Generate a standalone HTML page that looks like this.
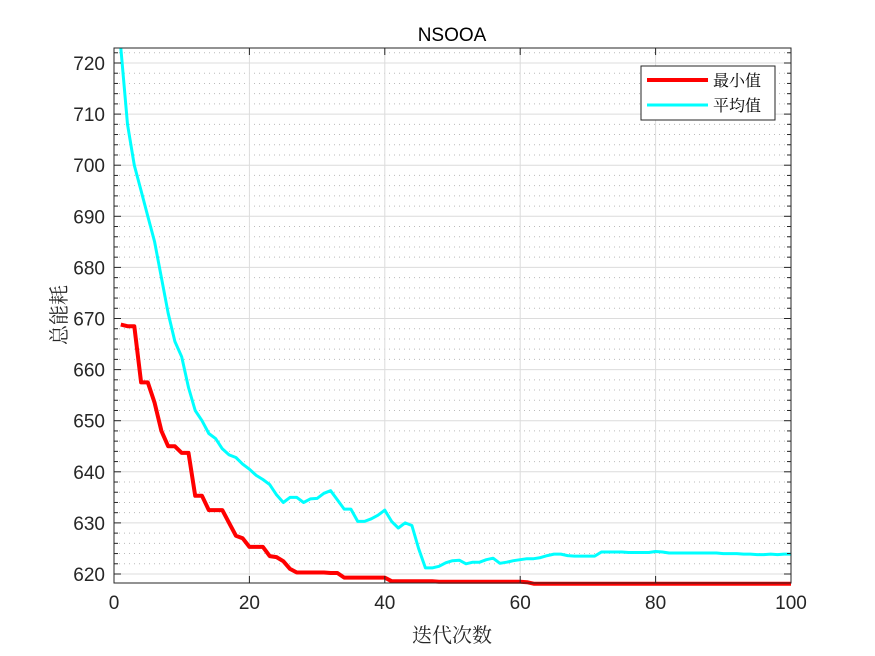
<!DOCTYPE html>
<html><head><meta charset="utf-8"><style>
body{margin:0;background:#fff;width:875px;height:656px;overflow:hidden}
svg{display:block}
</style></head><body>
<svg id="s" width="875" height="656" xmlns="http://www.w3.org/2000/svg" font-family="Liberation Sans, sans-serif">
<rect width="875" height="656" fill="#fff"/>
<g id="grid"></g>
<g id="series"></g>
<rect x="114" y="48" width="677" height="535" fill="none" stroke="#262626" stroke-width="1"/>
<g id="ticks"></g>
<text x="452" y="41" text-anchor="middle" font-size="19" fill="#000">NSOOA</text>
<text x="452" y="642" text-anchor="middle" font-size="20" fill="#262626" font-family="Liberation Serif, Noto Serif CJK SC, serif">迭代次数</text>
<text transform="translate(66,315) rotate(-90)" text-anchor="middle" font-size="20" fill="#262626" font-family="Liberation Serif, Noto Serif CJK SC, serif">总能耗</text>
<rect x="641" y="66" width="134" height="54" fill="#fff" stroke="#262626" stroke-width="1"/>
<line x1="647" y1="80" x2="708" y2="80" stroke="#f00" stroke-width="4"/>
<line x1="647" y1="105" x2="708" y2="105" stroke="#0ff" stroke-width="3"/>
<text x="713" y="86" font-size="16" fill="#000" font-family="Liberation Serif, Noto Serif CJK SC, serif">最小值</text>
<text x="713" y="111" font-size="16" fill="#000" font-family="Liberation Serif, Noto Serif CJK SC, serif">平均值</text>
</svg>
<script>
const X=v=>114+v*6.77, Y=v=>574-(v-620)*5.11;
const NS="http://www.w3.org/2000/svg";
function el(p,t,a,txt){const e=document.createElementNS(NS,t);for(const k in a)e.setAttribute(k,a[k]);if(txt!=null)e.textContent=txt;document.getElementById(p).appendChild(e);return e;}
for(let v=620;v<=722;v+=2){const y=Y(v);if(v%10==0){el('grid','line',{x1:114,x2:791,y1:y,y2:y,stroke:'#dcdcdc','stroke-width':1});el('ticks','line',{x1:114,x2:121,y1:y,y2:y,stroke:'#262626'});el('ticks','line',{x1:791,x2:784,y1:y,y2:y,stroke:'#262626'});el('ticks','text',{x:105,y:y+7,'text-anchor':'end','font-size':19,fill:'#262626'},v);}
else{el('grid','line',{x1:114,x2:791,y1:y,y2:y,stroke:'#bbb','stroke-width':1,'stroke-dasharray':'1 4'});el('ticks','line',{x1:114,x2:118,y1:y,y2:y,stroke:'#262626'});el('ticks','line',{x1:791,x2:787,y1:y,y2:y,stroke:'#262626'});}}
for(let v=0;v<=100;v+=20){const x=X(v);if(v>0&&v<100)el('grid','line',{x1:x,x2:x,y1:48,y2:583,stroke:'#dcdcdc'});el('ticks','line',{x1:x,x2:x,y1:583,y2:576,stroke:'#262626'});el('ticks','line',{x1:x,x2:x,y1:48,y2:55,stroke:'#262626'});el('ticks','text',{x:x,y:609,'text-anchor':'middle','font-size':19,fill:'#262626'},v);}
const red=[668.8,668.5,668.5,657.5,657.5,653.5,648,645,645,643.7,643.7,635.3,635.3,632.5,632.5,632.5,630,627.5,627,625.3,625.3,625.3,623.5,623.3,622.5,621,620.3,620.3,620.3,620.3,620.3,620.2,620.2,619.3,619.3,619.3,619.3,619.3,619.3,619.3,618.6,618.6,618.6,618.6,618.6,618.6,618.6,618.5,618.5,618.5,618.5,618.5,618.5,618.5,618.5,618.5,618.5,618.5,618.5,618.5,618.4];
while(red.length<100)red.push(618.1);
const cy=[723,708,700,695,690,685,678,671,665.5,662.5,656.5,652,650,647.5,646.5,644.5,643.3,642.8,641.5,640.5,639.3,638.5,637.5,635.5,634,635,635,634,634.7,634.8,635.8,636.3,634.5,632.7,632.7,630.3,630.3,630.8,631.5,632.5,630.3,629,630,629.5,625,621.2,621.2,621.5,622.2,622.6,622.7,622,622.3,622.3,622.8,623.1,622.1,622.3,622.6,622.8,623,623,623.2,623.6,623.9,623.9,623.6,623.5,623.5,623.5,623.5,624.3,624.3,624.3,624.3,624.2,624.2,624.2,624.2,624.4,624.3,624.1,624.1,624.1,624.1,624.1,624.1,624.1,624.1,624,624,624,623.9,623.9,623.8,623.8,623.9,623.8,623.9,623.9];
const pts=a=>a.map((v,i)=>X(i+1).toFixed(1)+','+Y(v).toFixed(1)).join(' ');
el('series','polyline',{points:pts(cy),fill:'none',stroke:'#0ff','stroke-width':3,'stroke-linejoin':'round'});
el('series','polyline',{points:pts(red),fill:'none',stroke:'#f00','stroke-width':4,'stroke-linejoin':'round'});
</script>
</body></html>
